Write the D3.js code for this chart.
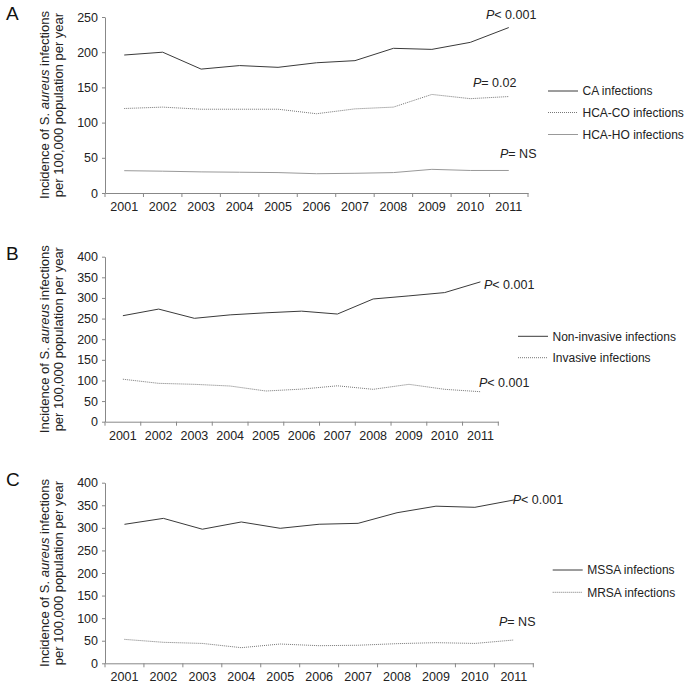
<!DOCTYPE html>
<html>
<head>
<meta charset="utf-8">
<script src="https://cdn.jsdelivr.net/npm/d3@7"></script>
<style>
  body { margin: 0; background: #fff; }
  svg { font-family: "Liberation Sans", Arial, sans-serif; }
  .tick text { fill: #222; font-size: 12.5px; }
  .domain, .tick line { stroke: #888; }
</style>
</head>
<body>
<div id="chart"></div>
<script>
const years = ["2001", "2002", "2003", "2004", "2005", "2006", "2007", "2008", "2009", "2010", "2011"];

// panel A
const caInfections = [196, 200, 176, 181, 178.5, 185, 188, 205.5, 204, 214, 235];
const hcaCoInfections = [120, 122, 119, 119, 119, 112.6, 119.5, 122, 140, 134, 137];
const hcaHoInfections = [31.7, 31, 30, 29.5, 29, 27.4, 28, 29, 33.6, 32, 32];
const yTicksA = [0, 50, 100, 150, 200, 250];

// panel B
const nonInvasive = [257, 273, 250.6, 259, 264, 268, 261, 297.5, 305, 313, 339];
const invasive = [103, 93, 90.6, 86.5, 74.4, 79, 87, 78.5, 90.6, 78.5, 72.7];
const yTicksBC = [0, 50, 100, 150, 200, 250, 300, 350, 400];

// panel C
const mssaInfections = [307.8, 321, 297, 313, 299, 308, 310, 333.5, 348, 345.5, 361.7];
const mrsaInfections = [53, 46.5, 44, 34.6, 42.7, 39, 40, 43.5, 45.7, 44, 51.6];

const styles = {
  dark: { stroke: "#3a3a3a", dash: null },
  dotted: { stroke: "#777", dash: "1,1" },
  light: { stroke: "#999", dash: null }
};

const panels = [
  {
    label: "A", top: 17, bottom: 193, right: 528, yMax: 250, ticks: yTicksA,
    series: [
      { name: "CA infections", values: caInfections, style: "dark", p: "< 0.001", px: 486, py: 15, legendY: 91 },
      { name: "HCA-CO infections", values: hcaCoInfections, style: "dotted", p: "= 0.02", px: 473, py: 83, legendY: 112.5 },
      { name: "HCA-HO infections", values: hcaHoInfections, style: "light", p: "= NS", px: 500, py: 154, legendY: 134.5 }
    ],
    legendX: 548
  },
  {
    label: "B", top: 256.7, bottom: 421.7, right: 498.3, yMax: 400, ticks: yTicksBC,
    series: [
      { name: "Non-invasive infections", values: nonInvasive, style: "dark", p: "< 0.001", px: 484, py: 284.3, legendY: 336.3 },
      { name: "Invasive infections", values: invasive, style: "dotted", p: "< 0.001", px: 479, py: 382.3, legendY: 357.7 }
    ],
    legendX: 518
  },
  {
    label: "C", top: 482.7, bottom: 663.3, right: 533.3, yMax: 400, ticks: yTicksBC,
    series: [
      { name: "MSSA infections", values: mssaInfections, style: "dark", p: "< 0.001", px: 512.7, py: 500, legendY: 570 },
      { name: "MRSA infections", values: mrsaInfections, style: "dotted", p: "= NS", px: 499, py: 622, legendY: 592.3 }
    ],
    legendX: 552.7
  }
];

const width = 685, height = 685, axisX = 105;
const svg = d3.select("#chart").append("svg").attr("width", width).attr("height", height);

panels.forEach(panel => {
  const g = svg.append("g");
  const x = d3.scaleBand().domain(years).range([axisX, panel.right]);
  const y = d3.scaleLinear().domain([0, panel.yMax]).range([panel.bottom, panel.top]);

  g.append("g")
    .attr("transform", `translate(0,${panel.bottom})`)
    .call(d3.axisBottom(x).tickSize(0).tickPadding(9))
    .call(ax => ax.selectAll(".tick line").remove());
  // ticks at category boundaries
  g.append("g").selectAll("line")
    .data(d3.range(years.length + 1))
    .join("line")
    .attr("x1", i => axisX + i * x.step())
    .attr("x2", i => axisX + i * x.step())
    .attr("y1", panel.bottom)
    .attr("y2", panel.bottom + 4)
    .attr("stroke", "#888");

  g.append("g")
    .attr("transform", `translate(${axisX},0)`)
    .call(d3.axisLeft(y).tickValues(panel.ticks).tickSize(3).tickPadding(4).tickSizeOuter(0));

  g.selectAll(".tick text").style("font-size", "12.5px");

  const line = d3.line().x((d, i) => x(years[i]) + x.bandwidth() / 2).y(d => y(d));
  panel.series.forEach(s => {
    const st = styles[s.style];
    g.append("path")
      .datum(s.values)
      .attr("d", line)
      .attr("fill", "none")
      .attr("stroke", st.stroke)
      .attr("stroke-width", 1)
      .attr("stroke-dasharray", st.dash);

    const t = g.append("text")
      .attr("x", s.px).attr("y", s.py)
      .attr("dy", "0.35em")
      .attr("font-size", 12.5)
      .attr("fill", "#222");
    t.append("tspan").attr("font-style", "italic").text("P");
    t.append("tspan").text(s.p);

    g.append("line")
      .attr("x1", panel.legendX).attr("x2", panel.legendX + 30)
      .attr("y1", s.legendY).attr("y2", s.legendY)
      .attr("stroke", st.stroke)
      .attr("stroke-dasharray", st.dash);
    g.append("text")
      .attr("x", panel.legendX + 34.5).attr("y", s.legendY)
      .attr("dy", "0.35em")
      .attr("font-size", 12)
      .attr("fill", "#222")
      .text(s.name);
  });

  g.append("text")
    .attr("x", 6).attr("y", panel.top + 3)
    .attr("font-size", 19)
    .attr("fill", "#111")
    .text(panel.label);

  const mid = (panel.top + panel.bottom) / 2;
  const title = g.append("text")
    .attr("transform", `translate(49,${mid}) rotate(-90)`)
    .attr("text-anchor", "middle")
    .attr("font-size", 13)
    .attr("fill", "#222");
  title.append("tspan").text("Incidence of ");
  title.append("tspan").text("S. ");
  title.append("tspan").attr("font-style", "italic").text("aureus");
  title.append("tspan").text(" infections");
  g.append("text")
    .attr("transform", `translate(63,${mid}) rotate(-90)`)
    .attr("text-anchor", "middle")
    .attr("font-size", 13)
    .attr("fill", "#222")
    .text("per 100,000 population per year");
});
</script>
</body>
</html>
